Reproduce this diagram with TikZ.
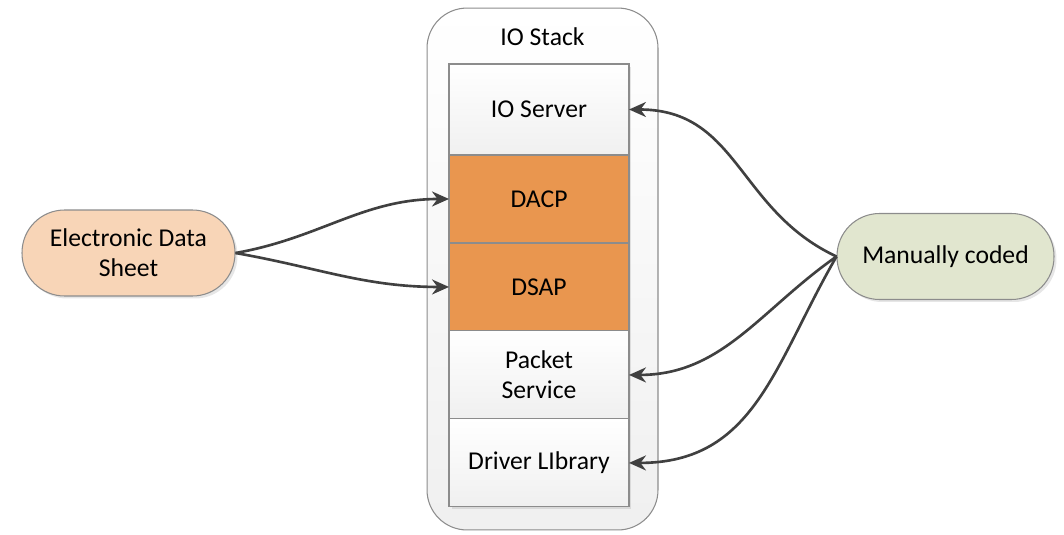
\documentclass[tikz,border=0pt]{standalone}
\usepackage{fontspec}
\setmainfont{Carlito}
\usetikzlibrary{arrows.meta, positioning, shadows}
\definecolor{iosorange}{HTML}{E9964F}
\definecolor{iospeach}{HTML}{F8D5B7}
\definecolor{iosolive}{HTML}{E1E6CF}
\definecolor{iosline}{HTML}{8C8C8C}
\definecolor{iosdark}{HTML}{404040}
\tikzset{
  frame/.style={rectangle, rounded corners=0.8cm, draw=iosline, line width=0.6pt,
    top color=white, bottom color=black!6, minimum width=4.62cm, minimum height=10.44cm},
  layer/.style={rectangle, draw=iosline, line width=0.6pt, minimum width=3.6cm,
    minimum height=1.76cm, outer sep=0pt, align=center, top color=white, bottom color=black!6,
    drop shadow={opacity=0.2, shadow xshift=0.05cm, shadow yshift=-0.05cm}},
  hilayer/.style={layer, top color=iosorange, bottom color=iosorange},
  pill/.style={rectangle, rounded corners=0.85cm, draw=iosline, line width=0.6pt,
    minimum height=1.72cm, align=center,
    drop shadow={opacity=0.2, shadow xshift=0.05cm, shadow yshift=-0.05cm}},
  conn/.style={-{Stealth[length=3.4mm, width=3mm]}, line width=1.5pt, iosdark},
}

\begin{document}
\begin{tikzpicture}[x=0.02cm, y=-0.02cm, font=\fontsize{14.6}{17}\selectfont]
  \useasboundingbox (0,0) rectangle (1064,534);
  \node[frame] (stack) at (542.5,269) {};
  \node (title) at (542.5,37) {IO Stack};

  \node[layer, minimum height=1.82cm] (ioserver) at (539,109.5) {IO Server};
  \node[hilayer, below=0pt of ioserver] (dacp) {DACP};
  \node[hilayer, below=0pt of dacp] (dsap) {DSAP};
  \node[layer, below=0pt of dsap] (packet) {Packet\\Service};
  \node[layer, below=0pt of packet] (driver) {Driver LIbrary};

  \node[pill, fill=iospeach, minimum width=4.26cm] (eds) at (128.5,253) {Electronic Data\\Sheet};
  \node[pill, fill=iosolive, minimum width=4.34cm] (manual) at (945.5,256.5) {Manually coded};

  \draw[conn] (eds.east) to[out=10, in=180] (dacp.west);
  \draw[conn] (eds.east) to[out=-10, in=180] (dsap.west);
  \draw[conn] (manual.west) to[out=155, in=0, looseness=1.1] (ioserver.east);
  \draw[conn] (manual.west) to[out=215, in=0] (packet.east);
  \draw[conn] (manual.west) to[out=240, in=0, looseness=1.1] (driver.east);
\end{tikzpicture}
\end{document}
